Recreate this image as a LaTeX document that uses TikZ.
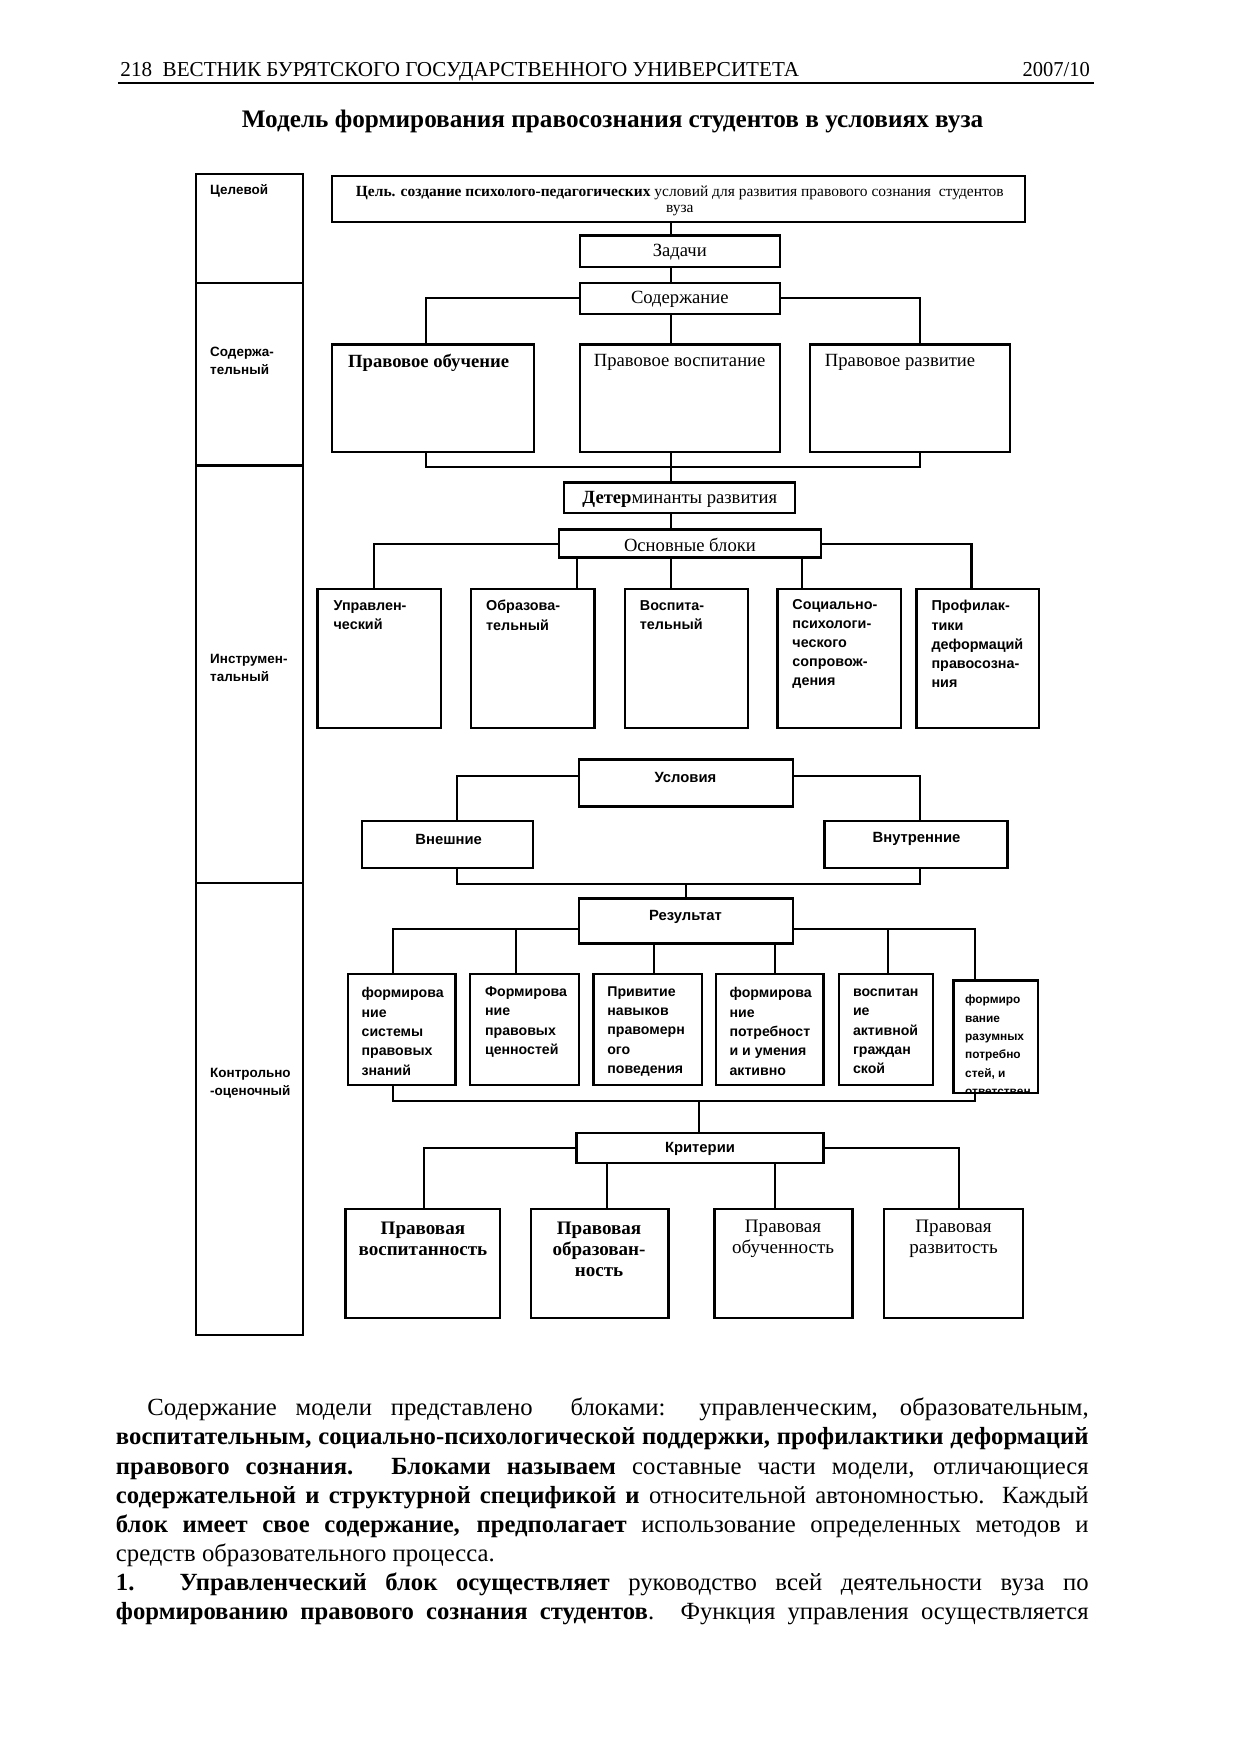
\documentclass[tikz,border=0pt]{standalone}
\usepackage{fontspec}
\setmainfont{Liberation Serif}
\setsansfont{Liberation Sans}
\usepackage{graphicx}
\usetikzlibrary{fit,calc}
\begin{document}
\begin{tikzpicture}[x=0.5pt,y=-0.5pt,
  bx/.style={draw, line width=1pt, inner sep=0pt},
  ln/.style={line width=0.9pt},
  lbl/.style={font=\sffamily\bfseries\fontsize{6}{8}\selectfont, align=left, inner sep=0pt, anchor=west},
  ser/.style={font=\fontsize{8.3}{9.5}\selectfont, inner sep=0pt},
  cri/.style={font=\fontsize{8.5}{9.3}\selectfont, inner sep=0pt, align=center},
  blk/.style={font=\sffamily\bfseries\fontsize{6.4}{8.5}\selectfont, inner sep=0pt, align=left, anchor=west},
  res/.style={font=\sffamily\bfseries\fontsize{6.3}{8.6}\selectfont, inner sep=0pt, align=left, anchor=west},
  sb/.style={font=\sffamily\bfseries\fontsize{6.6}{8}\selectfont, inner sep=0pt},
  body/.style={font=\fontsize{11}{13}\selectfont, inner sep=0pt, anchor=base west},
]
\fill[white] (0,0) rectangle (1112,1568);
\useasboundingbox (0,0) rectangle (1112,1568);

% header
\node[inner sep=0pt, anchor=base west] (hdr) at (107,68) {\resizebox{302.5pt}{6.3pt}{\fontsize{9}{9}\selectfont 218\ \ ВЕСТНИК БУРЯТСКОГО ГОСУДАРСТВЕННОГО УНИВЕРСИТЕТА}};
\node[inner sep=0pt, anchor=base east] (yr) at (972,68) {\resizebox{30pt}{6.3pt}{\fontsize{9}{9}\selectfont 2007/10}};
\coordinate (u1) at (105,74);
\coordinate (u2) at (975,74);
\draw[line width=0.8pt] (u1) -- (u2);
\node[inner sep=0pt, anchor=base] (ttl) at (546,114) {\resizebox{330.5pt}{!}{\bfseries\fontsize{11}{11}\selectfont Модель формирования правосознания студентов в условиях вуза}};

% left column
\node[bx, fit={(175,155) (270,252)}] (c1) {};
\node[bx, fit={(175,252) (270,415)}] (c2) {};
\node[bx, fit={(175,415) (270,787)}] (c3) {};
\node[bx, fit={(175,787) (270,1190)}] (c4) {};
\node[lbl] (l1) at (187,170) {Целевой};
\node[lbl] (l2) at (187,322) {Содержа-\\тельный};
\node[lbl] (l3) at (187,595) {Инструмен-\\тальный};
\node[lbl] (l4) at (187,966) {Контрольно\\-оценочный};

% guides
\coordinate (xA) at (598,0);
\coordinate (xB1) at (380,0);
\coordinate (xB2) at (820,0);
\coordinate (xC1) at (333,0);
\coordinate (xC2) at (514,0);
\coordinate (xC3) at (715,0);
\coordinate (xC4) at (866,0);
\coordinate (xD1) at (407,0);
\coordinate (xD2) at (820,0);
\coordinate (xE1) at (350,0);
\coordinate (xE2) at (460,0);
\coordinate (xE3) at (583,0);
\coordinate (xE4) at (691,0);
\coordinate (xE5) at (792,0);
\coordinate (xE6) at (869,0);
\coordinate (xE) at (623,0);
\coordinate (xF1) at (378,0);
\coordinate (xF2) at (541,0);
\coordinate (xF3) at (691,0);
\coordinate (xF4) at (855,0);

% boxes
\node[bx, fit={(296,157) (914,198)}] (goal) {};
\node[bx, fit={(517,210) (695,238)}] (zad) {};
\node[bx, fit={(517,252) (695,280)}] (sod) {};
\node[bx, fit={(296,307) (476,403)}] (pobuch) {};
\node[bx, fit={(517,307) (695,403)}] (pvosp) {};
\node[bx, fit={(722,307) (900,403)}] (prazv) {};
\node[bx, fit={(503,430) (709,457)}] (det) {};
\node[bx, fit={(498,472) (732,497)}] (osn) {};
\node[bx, fit={(283,525) (393,649)}] (upr) {};
\node[bx, fit={(420,525) (530,649)}] (obr) {};
\node[bx, fit={(557,525) (667,649)}] (vosp) {};
\node[bx, fit={(693,525) (803,649)}] (soc) {};
\node[bx, fit={(817,525) (926,649)}] (prof) {};
\node[bx, fit={(516,677) (707,719)}] (usl) {};
\node[bx, fit={(323,732) (475,774)}] (vnesh) {};
\node[bx, fit={(735,732) (898,774)}] (vnutr) {};
\node[bx, fit={(516,801) (707,841)}] (rez) {};
\node[bx, fit={(310,868) (406,967)}] (r1) {};
\node[bx, fit={(419,868) (516,967)}] (r2) {};
\node[bx, fit={(529,868) (626,967)}] (r3) {};
\node[bx, fit={(638,868) (734,967)}] (r4) {};
\node[bx, fit={(748,868) (832,967)}] (r5) {};
\node[bx, fit={(850,874) (925,974)}] (r6) {};
\node[bx, fit={(514,1010) (734,1037)}] (krit) {};
\node[bx, fit={(308,1078) (446,1175)}] (k1) {};
\node[bx, fit={(473,1078) (596,1175)}] (k2) {};
\node[bx, fit={(637,1078) (760,1175)}] (k3) {};
\node[bx, fit={(788,1078) (912,1175)}] (k4) {};

% texts
\node[font=\fontsize{6.9}{7.5}\selectfont, inner sep=0pt, align=center] (goalt) at (606,179) {\textbf{Цель. создание психолого-педагогических} условий для развития правового сознания\ \ студентов\\вуза};
\node[ser] (zadt) at (606,225) {Задачи};
\node[ser] (sodt) at (606,267) {Содержание};
\node[ser, anchor=west] (pobucht) at (310,323) {\textbf{Правовое обучение}};
\node[ser, anchor=west] (pvospt) at (529,323) {Правовое воспитание};
\node[ser, anchor=west] (prazvt) at (735,323) {Правовое развитие};
\node[ser] (dett) at (606,445) {\textbf{Детер}минанты развития};
\node[ser] (osnt) at (615,486) {Основные блоки};
\node[blk] (uprt) at (297,548.5) {Управлен-\\ческий};
\node[blk] (obrt) at (433,548.5) {Образова-\\тельный};
\node[blk] (vospt) at (570,548.5) {Воспита-\\тельный};
\node[blk] (soct) at (706,574) {Социально-\\психологи-\\ческого\\сопровож-\\дения};
\node[blk] (proft) at (830,574) {Профилак-\\тики\\деформаций\\правосозна-\\ния};
\node[sb] (uslt) at (611,693) {Условия};
\node[sb] (vnesht) at (400,748) {Внешние};
\node[sb] (vnutrt) at (817,748) {Внутренние};
\node[sb] (rezt) at (611,817) {Результат};
\node[res] (r1t) at (322,919.5) {формирова\\ние\\системы\\правовых\\знаний};
\node[res] (r2t) at (432,911) {Формирова\\ние\\правовых\\ценностей};
\node[res] (r3t) at (541,919.5) {Привитие\\навыков\\правомерн\\ого\\поведения};
\node[res] (r4t) at (650,919.5) {формирова\\ние\\потребност\\и и умения\\активно};
\node[res] (r5t) at (760,919.5) {воспитан\\ие\\активной\\граждан\\ской};
\begin{scope}
\clip (r6.north west) rectangle (r6.south east);
\node[font=\sffamily\bfseries\fontsize{5.3}{8.2}\selectfont, inner sep=0pt, align=left, anchor=west] (r6t) at (860,932) {формиро\\вание\\разумных\\потребно\\стей, и\\ответствен};
\end{scope}
\node[sb] (kritt) at (624,1024) {Критерии};
\node[cri] (k1t) at (377,1104) {\textbf{Правовая}\\\textbf{воспитанность}};
\node[cri] (k2t) at (534,1114) {\textbf{Правовая}\\\textbf{образован-}\\\textbf{ность}};
\node[cri] (k3t) at (698,1104) {Правовая\\обученность};
\node[cri] (k4t) at (850,1104) {Правовая\\развитость};

% connectors
\draw[ln] (goal.south -| xA) -- (zad.north -| xA);
\draw[ln] (zad.south -| xA) -- (sod.north -| xA);
\draw[ln] (sod.west) -| (pobuch.north -| xB1);
\draw[ln] (sod.east) -| (prazv.north -| xB2);
\draw[ln] (sod.south -| xA) -- (pvosp.north -| xA);
\draw[ln] (pobuch.south -| xB1) -- ++(0,12) -| (prazv.south -| xB2);
\draw[ln] (pvosp.south -| xA) -- (det.north -| xA);
\draw[ln] (det.south -| xA) -- (osn.north -| xA);
\draw[ln] (osn.west) -| (upr.north -| xC1);
\draw[ln] (osn.east) -| (prof.north -| xC4);
\draw[ln] (osn.south -| xC2) -- (obr.north -| xC2);
\draw[ln] (osn.south -| xA) -- (vosp.north -| xA);
\draw[ln] (osn.south -| xC3) -- (soc.north -| xC3);
\draw[ln] ([yshift=3pt]usl.west) -| (vnesh.north -| xD1);
\draw[ln] ([yshift=3pt]usl.east) -| (vnutr.north -| xD2);
\draw[ln] (vnesh.south -| xD1) -- ++(0,13) coordinate (jd) -| (vnutr.south -| xD2);
\draw[ln] (rez.north) -- (rez.north |- jd);
\coordinate (yR1) at ([yshift=-3.5pt]rez.west);
\coordinate (yR2) at ([yshift=-3.5pt]rez.east);
\draw[ln] (yR1) -| (r1.north -| xE1);
\draw[ln] (r2.north -| xE2) -- (xE2 |- yR1);
\draw[ln] (yR2) -| (r6.north -| xE6);
\draw[ln] (r5.north -| xE5) -- (xE5 |- yR2);
\draw[ln] (rez.south -| xE3) -- (r3.north -| xE3);
\draw[ln] (rez.south -| xE4) -- (r4.north -| xE4);
\draw[ln] (r1.south -| xE1) -- ++(0,13) coordinate (jb) -| (r6.south -| xE6);
\draw[ln] (xE |- jb) -- (krit.north -| xE);
\draw[ln] (krit.west) -| (k1.north -| xF1);
\draw[ln] (krit.east) -| (k4.north -| xF4);
\draw[ln] (krit.south -| xF2) -- (k2.north -| xF2);
\draw[ln] (krit.south -| xF3) -- (k3.north -| xF3);

% body text
\node[body] (b1) at (131,1262) {\makebox[419.5pt][s]{Содержание модели представлено\ \ блоками: управленческим, образовательным,}};
\node[body] (b2) at (103,1288) {\makebox[433.5pt][s]{\bfseries воспитательным, социально-психологической поддержки, профилактики деформаций}};
\node[body] (b3) at (103,1314) {\makebox[433.5pt][s]{\textbf{правового сознания. Блоками называем} составные части модели, отличающиеся}};
\node[body] (b4) at (103,1340) {\makebox[433.5pt][s]{\textbf{содержательной и структурной спецификой и} относительной автономностью. Каждый}};
\node[body] (b5) at (103,1366) {\makebox[433.5pt][s]{\textbf{блок имеет свое содержание, предполагает} использование определенных методов и}};
\node[body] (b6) at (103,1392) {средств образовательного процесса.};
\node[body] (b7) at (103,1418) {\makebox[433.5pt][s]{\textbf{1. Управленческий блок осуществляет} руководство всей деятельности вуза по}};
\node[body] (b8) at (103,1444) {\makebox[433.5pt][s]{\textbf{формированию правового сознания студентов}. Функция управления осуществляется}};
\end{tikzpicture}
\end{document}
